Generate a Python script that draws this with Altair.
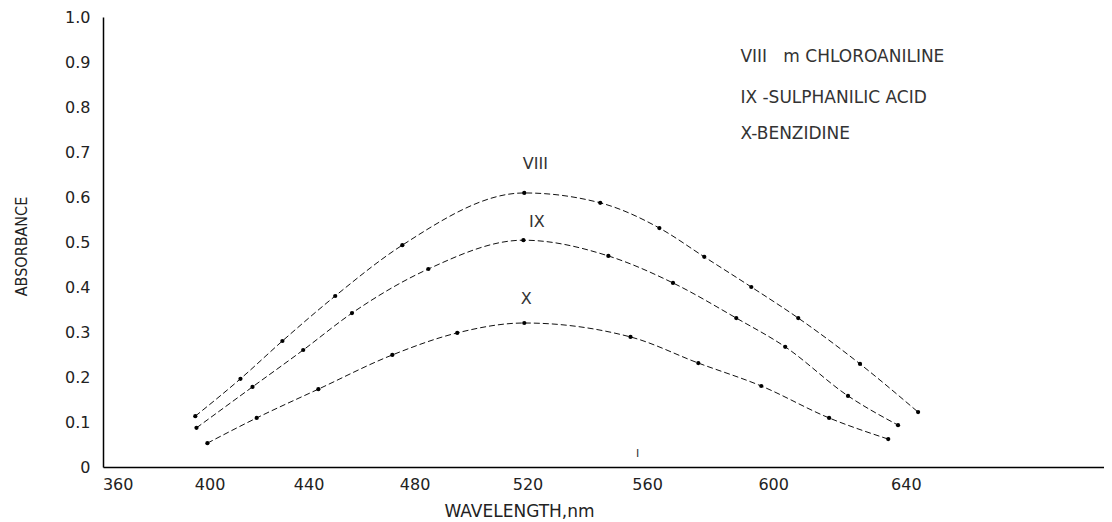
import altair as alt
import pandas as pd

# ---- data ----
viii_wl = [394.0, 412.8, 429.7, 450.3, 475.5, 518.9, 544.6, 564.0, 578.4, 593.2, 607.7, 626.4, 643.6]
viii_ab = [0.113, 0.196, 0.280, 0.380, 0.493, 0.609, 0.587, 0.531, 0.467, 0.400, 0.331, 0.229, 0.122]

ix_wl = [394.5, 417.7, 437.9, 456.7, 485.0, 518.6, 547.3, 568.4, 588.5, 603.7, 622.8, 637.7]
ix_ab = [0.087, 0.178, 0.260, 0.342, 0.440, 0.504, 0.469, 0.409, 0.331, 0.267, 0.158, 0.093]

x_wl = [399.1, 419.4, 443.8, 471.8, 495.4, 518.9, 554.6, 576.5, 596.3, 617.1, 634.8]
x_ab = [0.053, 0.109, 0.173, 0.249, 0.298, 0.320, 0.289, 0.231, 0.180, 0.109, 0.062]

series_names = ["VIII", "IX", "X"]

x_ticks = [360, 400, 440, 480, 520, 560, 600, 640]
y_ticks = [0, 0.1, 0.2, 0.3, 0.4, 0.5, 0.6, 0.7, 0.8, 0.9, 1.0]

curve_label_text = ["VIII", "IX", "X"]
curve_label_wl = [522.7, 523.2, 519.6]
curve_label_ab = [0.673, 0.544, 0.373]

legend_text = ["VIII\u00a0\u00a0\u00a0m CHLOROANILINE", "IX -SULPHANILIC ACID", "X-BENZIDINE"]
legend_wl = [589.8, 589.8, 589.8]
legend_ab = [0.911, 0.820, 0.740]

stray_text = ["I"]
stray_wl = [556.9]
stray_ab = [0.029]

# ---- build tables ----
rows = []
for name, wls, abs_ in zip(series_names, [viii_wl, ix_wl, x_wl], [viii_ab, ix_ab, x_ab]):
    for w, a in zip(wls, abs_):
        rows.append({"series": name, "wl": w, "ab": a})
df = pd.DataFrame(rows)

labels_df = pd.DataFrame({"t": curve_label_text, "wl": curve_label_wl, "ab": curve_label_ab})
legend_df = pd.DataFrame({"t": legend_text, "wl": legend_wl, "ab": legend_ab})
stray_df = pd.DataFrame({"t": stray_text, "wl": stray_wl, "ab": stray_ab})

xscale = alt.Scale(type="pow", exponent=1.75, domain=[353.3, 696.5], nice=False, zero=False)
yscale = alt.Scale(domain=[0, 1.0], nice=False, zero=True)

x_axis = alt.Axis(
    values=x_ticks, grid=False, ticks=False, domainColor="#000", domainWidth=1.5,
    labelFont="DejaVu Sans", labelFontSize=16, labelColor="#222", labelPadding=9,
    labelFlush=False, labelOverlap=False,
    title="WAVELENGTH,nm", titleFont="DejaVu Sans", titleFontSize=17,
    titleFontWeight="normal", titleColor="#222", titleX=416, titleY=44,
    titleBaseline="middle", titleAlign="center",
)
y_axis = alt.Axis(
    values=y_ticks, grid=False, ticks=False, domainColor="#000", domainWidth=1.5,
    labelExpr="datum.value == 0 ? '0' : format(datum.value, '.1f')",
    labelFont="DejaVu Sans", labelFontSize=16, labelColor="#222", labelPadding=13,
    labelFlush=False, labelOverlap=False,
    title="ABSORBANCE", titleFont="Liberation Sans Narrow, DejaVu Sans Condensed, Arial Narrow, sans-serif",
    titleFontSize=16, titleFontWeight="normal", titleColor="#222",
    titleX=-82, titleY=229, titleAngle=-90, titleAlign="center", titleBaseline="middle",
)

base = alt.Chart(df)

lines = base.mark_line(
    interpolate="monotone", color="#111", strokeWidth=1, strokeDash=[6, 3]
).encode(
    x=alt.X("wl:Q", scale=xscale, axis=x_axis),
    y=alt.Y("ab:Q", scale=yscale, axis=y_axis),
    detail="series:N",
)

points = base.mark_circle(color="#000", size=18, opacity=1).encode(
    x=alt.X("wl:Q", scale=xscale),
    y=alt.Y("ab:Q", scale=yscale),
)

curve_labels = alt.Chart(labels_df).mark_text(
    font="DejaVu Sans", fontSize=16, color="#333", align="center", baseline="middle"
).encode(
    x=alt.X("wl:Q", scale=xscale), y=alt.Y("ab:Q", scale=yscale), text="t:N"
)

legend = alt.Chart(legend_df).mark_text(
    font="DejaVu Sans", fontSize=17, color="#333", align="left", baseline="middle"
).encode(
    x=alt.X("wl:Q", scale=xscale), y=alt.Y("ab:Q", scale=yscale), text="t:N"
)

stray = alt.Chart(stray_df).mark_text(
    font="DejaVu Sans", fontSize=11, color="#333", align="center", baseline="middle"
).encode(
    x=alt.X("wl:Q", scale=xscale), y=alt.Y("ab:Q", scale=yscale), text="t:N"
)

chart = alt.layer(lines, points, curve_labels, legend, stray).properties(
    width=1001,
    height=450,
    autosize=alt.AutoSizeParams(type="none"),
    padding={"top": 9, "left": 95, "right": 0, "bottom": 55},
    background="white",
).configure_view(stroke=None)

chart.save("out.html", embed_options={"renderer": "svg", "actions": False})
